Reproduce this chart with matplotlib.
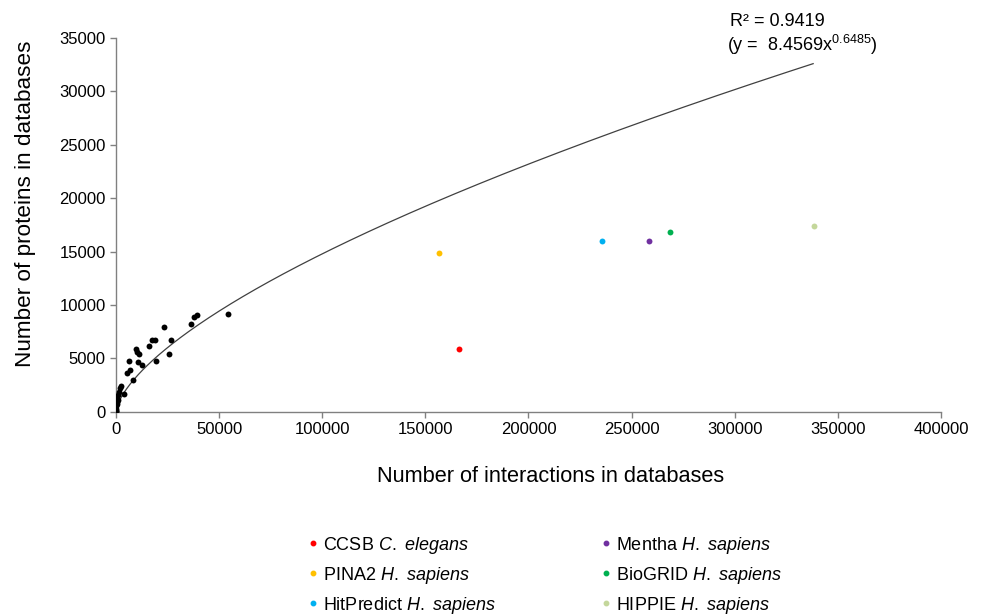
import numpy as np
import matplotlib
matplotlib.use("Agg")
import matplotlib.pyplot as plt
from matplotlib.lines import Line2D

plt.rcParams['font.family'] = ['Liberation Sans', 'DejaVu Sans']
plt.rcParams['mathtext.fontset'] = 'custom'
plt.rcParams['mathtext.rm'] = 'Liberation Sans'
plt.rcParams['mathtext.it'] = 'Liberation Sans:italic'

# small databases (black dots)
black_x = [54500, 39500, 37900, 36600, 23200, 26800, 25600, 19100, 17500, 15900,
           19600, 9600, 10100, 11400, 10900, 12600, 6500, 5200, 6900, 8500,
           3900, 2500, 2000, 1500, 1100, 700, 400, 200, 100, 50, 20, 300, 800]
black_y = [9150, 9100, 8850, 8250, 7950, 6750, 5450, 6750, 6750, 6150,
           4750, 5900, 5650, 5450, 4650, 4350, 4800, 3600, 3900, 3000,
           1700, 2450, 2200, 1900, 1550, 1250, 900, 600, 300, 100, 50, 700, 1100]

# highlighted databases
db_names = ["CCSB $\\mathit{C.}$ $\\mathit{elegans}$", "PINA2 $\\mathit{H.}$ $\\mathit{sapiens}$",
            "HitPredict $\\mathit{H.}$ $\\mathit{sapiens}$", "Mentha $\\mathit{H.}$ $\\mathit{sapiens}$",
            "BioGRID $\\mathit{H.}$ $\\mathit{sapiens}$", "HIPPIE $\\mathit{H.}$ $\\mathit{sapiens}$"]
db_x = [166500, 156600, 235800, 258300, 268600, 338300]
db_y = [5900, 14900, 15950, 16000, 16800, 17400]
db_colors = ["#FF0000", "#FFC000", "#00B0F0", "#7030A0", "#00B050", "#C4D79B"]

# power fit
fit_a = 8.4569
fit_b = 0.6485

fig = plt.figure(figsize=(9.86, 6.16), dpi=100)
ax = fig.add_axes([0.1176, 0.3312, 0.8368, 0.6078])

xf = np.linspace(1, 338000, 600)
ax.plot(xf, fit_a * xf ** fit_b, color="#404040", lw=0.9, zorder=1)

ax.scatter(black_x, black_y, s=18, color="black", zorder=3, linewidths=0)
for x, y, c in zip(db_x, db_y, db_colors):
    ax.scatter([x], [y], s=18, color=c, zorder=3, linewidths=0)

ax.set_xlim(0, 400000)
ax.set_ylim(0, 35000)
ax.set_xticks(np.arange(0, 400001, 50000))
ax.set_yticks(np.arange(0, 35001, 5000))
for s in ["top", "right"]:
    ax.spines[s].set_visible(False)
for s in ["left", "bottom"]:
    ax.spines[s].set_color("#808080")
    ax.spines[s].set_linewidth(1.0)
ax.tick_params(colors="#808080", labelcolor="black", labelsize=12, length=4, width=1)

ax.set_xlabel("Number of interactions in databases", fontsize=15.7)
ax.xaxis.set_label_coords(0.5266, -0.145)
ax.set_ylabel("Number of proteins in databases", fontsize=16.2)
ax.yaxis.set_label_coords(-0.097, 0.555)

fig.text(0.740, 0.957, "R² = 0.9419", fontsize=13)
fig.text(0.737, 0.917, "(y =  8.4569x$^{0.6485}$)", fontsize=13)

handles = [Line2D([], [], marker="o", linestyle="none", markersize=3.2,
                  markerfacecolor=c, markeredgecolor=c) for c in db_colors]
fig.legend(handles, db_names, loc="lower left", bbox_to_anchor=(0.292, -0.026),
           ncol=2, frameon=False, fontsize=13, columnspacing=5.6,
           handletextpad=0.05, labelspacing=0.5, handlelength=1.0)

fig.savefig("out.png", dpi=100)
